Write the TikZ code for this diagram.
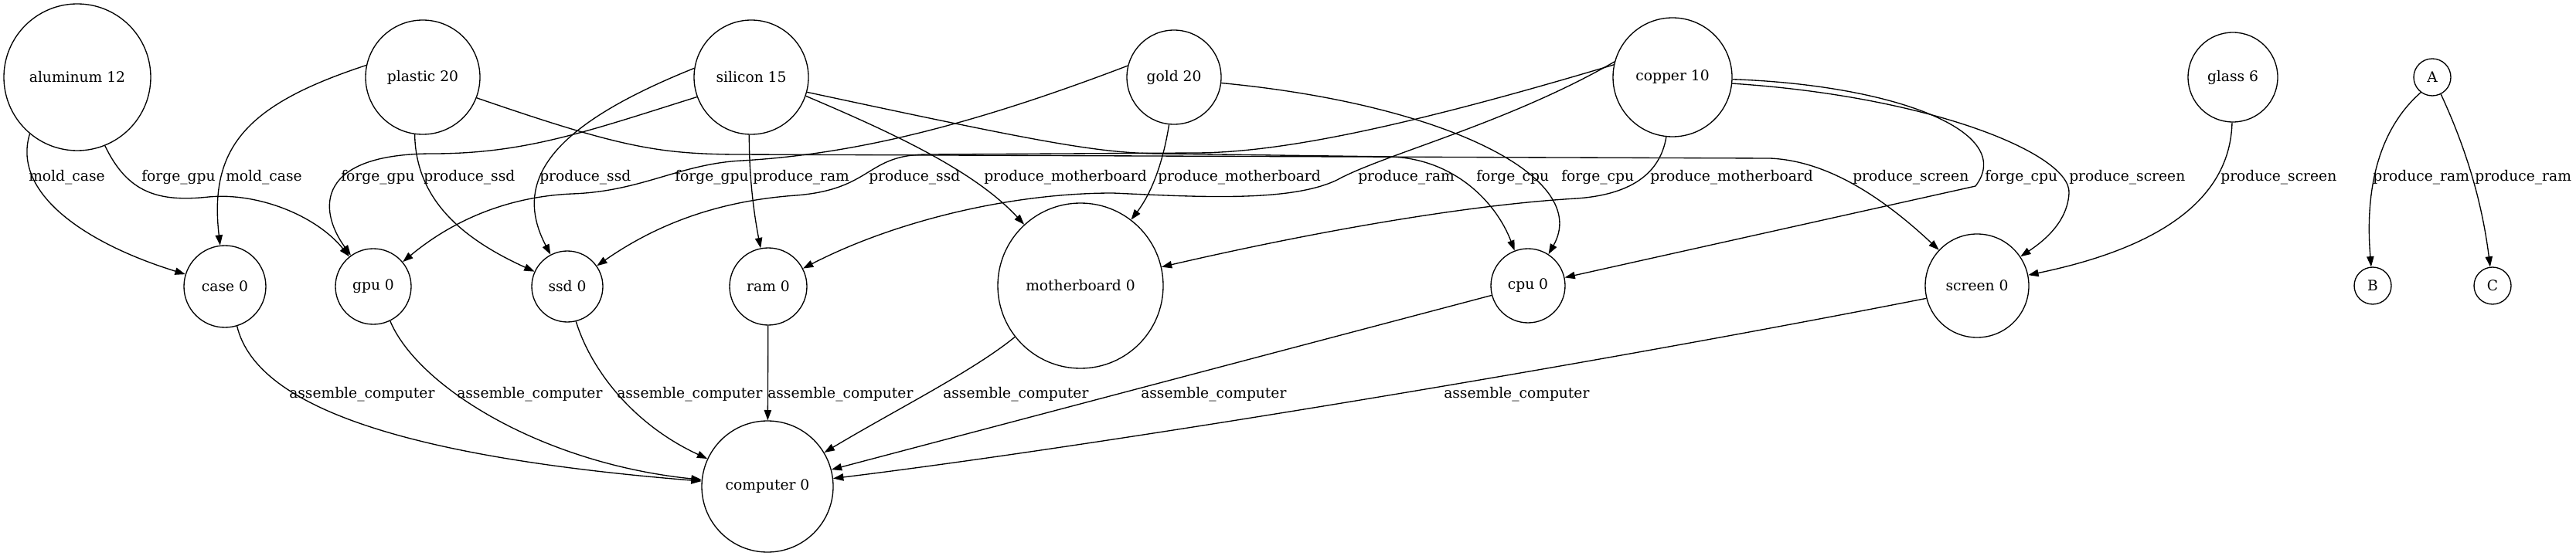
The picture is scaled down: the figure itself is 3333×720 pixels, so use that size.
\documentclass[tikz,border=0pt]{standalone}
\usepackage{fontspec}
\setmainfont{DejaVu Serif}
\usetikzlibrary{arrows.meta}
\begin{document}
\begin{tikzpicture}[x=0.75pt, y=-0.75pt,
  every node/.style={font=\fontsize{14}{16.8}\selectfont},
  gnode/.style={circle, draw, line width=1pt, inner sep=0pt, minimum size=#1},
  edge/.style={line width=1pt, -{Triangle[length=10pt,width=7pt]}},
  lbl/.style={anchor=base west, inner sep=0pt}]
\useasboundingbox[fill=white] (0,0) rectangle (3333,720);
% nodes
\node[gnode=142.5pt] (alu) at (100,100) {aluminum 12};
\node[gnode=111pt] (plastic) at (547,100) {plastic 20};
\node[gnode=111pt] (silicon) at (972,100) {silicon 15};
\node[gnode=91.5pt] (gold) at (1519,100) {gold 20};
\node[gnode=115.5pt] (copper) at (2164,100) {copper 10};
\node[gnode=87pt] (glass) at (2889,100) {glass 6};
\node[gnode=36pt] (A) at (3147,100) {A};
\node[gnode=79.5pt] (case) at (291,371) {case 0};
\node[gnode=73.5pt] (gpu) at (483,371) {gpu 0};
\node[gnode=69pt] (ssd) at (734,371) {ssd 0};
\node[gnode=75pt] (ram) at (994,371) {ram 0};
\node[gnode=160.5pt] (mb) at (1398,370) {motherboard 0};
\node[gnode=72pt] (cpu) at (1977,370) {cpu 0};
\node[gnode=100.5pt] (screen) at (2558,370) {screen 0};
\node[gnode=36pt] (B) at (3070,370) {B};
\node[gnode=36pt] (C) at (3225,370) {C};
\node[gnode=127.5pt] (computer) at (993,630) {computer 0};
% top edges
\draw[edge] (alu.230) .. controls (15,250) and (110,315) .. (case);
\draw[edge] (alu.-68) .. controls (165,250) and (205,262) .. (270,255) .. controls (335,249) and (410,280) .. (gpu);
\draw[edge] (plastic.168) .. controls (320,135) and (270,190) .. (case);
\draw[edge] (plastic.-98) .. controls (538,260) and (600,310) .. (ssd);
\draw[edge] (plastic.-21) .. controls (800,190) and (850,199) .. (950,200) -- (2290,205) .. controls (2360,208) and (2430,250) .. (screen);
\draw[edge] (silicon.200) .. controls (760,170) and (680,199) .. (560,199) .. controls (410,199) and (410,270) .. (gpu);
\draw[edge] (silicon.171) .. controls (720,160) and (660,230) .. (ssd);
\draw[edge] (silicon.-92) .. controls (969,230) and (976,280) .. (ram);
\draw[edge] (silicon.-19) .. controls (1150,170) and (1260,220) .. (mb);
\draw[edge] (silicon.-15) .. controls (1350,185) and (1420,198) .. (1500,199) -- (1800,203) .. controls (1880,206) and (1935,260) .. (cpu);
\draw[edge] (gold.166) .. controls (1250,165) and (1100,200) .. (960,208) .. controls (880,212) and (830,248) .. (740,251) .. controls (650,255) and (580,290) .. (gpu);
\draw[edge] (gold.-96) .. controls (1505,210) and (1490,250) .. (mb);
\draw[edge] (gold.-7) .. controls (1870,135) and (2060,230) .. (cpu.57);
\draw[edge] (copper.168) .. controls (1800,170) and (1650,197) .. (1550,198) -- (1200,200) .. controls (1120,200) and (1130,245) .. (1030,253) .. controls (930,260) and (850,290) .. (ssd);
\draw[edge] (copper.165) .. controls (1950,160) and (1790,200) .. (1730,233) .. controls (1670,262) and (1550,255) .. (1440,250) .. controls (1300,250) and (1150,290) .. (ram);
\draw[edge] (copper.-96) .. controls (2148,225) and (2110,252) .. (2040,257) .. controls (1900,265) and (1700,300) .. (mb);
\draw[edge] (copper.-2) .. controls (2450,110) and (2610,170) .. (2556,241) -- (cpu);
\draw[edge] (copper.-6) .. controls (2500,125) and (2680,200) .. (2677,250) .. controls (2675,290) and (2640,315) .. (screen);
\draw[edge] (glass.-91) .. controls (2885,280) and (2750,330) .. (screen);
\draw[edge] (A.-127) .. controls (3075,170) and (3060,250) .. (B);
\draw[edge] (A.-63) .. controls (3185,180) and (3210,250) .. (C);
% bottom edges
\draw[edge] (case.-73) .. controls (330,520) and (500,590) .. (computer);
\draw[edge] (gpu.-64) .. controls (540,500) and (700,600) .. (computer);
\draw[edge] (ssd.-76) .. controls (765,480) and (820,550) .. (computer);
\draw[edge] (ram) -- (computer);
\draw[edge] (mb.-142) .. controls (1260,480) and (1160,530) .. (computer);
\draw[edge] (cpu) -- (computer);
\draw[edge] (screen.-166) .. controls (2000,483) and (1400,580) .. (computer);
% labels row 1
\node[lbl] (l1) at (37,235) {mold\_case};
\node[lbl] (l2) at (183,235) {forge\_gpu};
\node[lbl] (l3) at (292,235) {mold\_case};
\node[lbl] (l4) at (441,235) {forge\_gpu};
\node[lbl] (l5) at (548,235) {produce\_ssd};
\node[lbl] (l6) at (698,235) {produce\_ssd};
\node[lbl] (l7) at (873,235) {forge\_gpu};
\node[lbl] (l8) at (974,235) {produce\_ram};
\node[lbl] (l9) at (1124,235) {produce\_ssd};
\node[lbl] (l10) at (1273,235) {produce\_motherboard};
\node[lbl] (l11) at (1498,235) {produce\_motherboard};
\node[lbl] (l12) at (1757,235) {produce\_ram};
\node[lbl] (l13) at (1910,235) {forge\_cpu};
\node[lbl] (l14) at (2020,235) {forge\_cpu};
\node[lbl] (l15) at (2135,235) {produce\_motherboard};
\node[lbl] (l16) at (2397,235) {produce\_screen};
\node[lbl] (l17) at (2568,235) {forge\_cpu};
\node[lbl] (l18) at (2677,235) {produce\_screen};
\node[lbl] (l19) at (2873,235) {produce\_screen};
\node[lbl] (l20) at (3070,235) {produce\_ram};
\node[lbl] (l21) at (3202,235) {produce\_ram};
% labels row 2
\node[lbl] (m1) at (374,515) {assemble\_computer};
\node[lbl] (m2) at (591,515) {assemble\_computer};
\node[lbl] (m3) at (798,515) {assemble\_computer};
\node[lbl] (m4) at (993,515) {assemble\_computer};
\node[lbl] (m5) at (1220,515) {assemble\_computer};
\node[lbl] (m6) at (1476,515) {assemble\_computer};
\node[lbl] (m7) at (1868,515) {assemble\_computer};
\end{tikzpicture}
\end{document}
